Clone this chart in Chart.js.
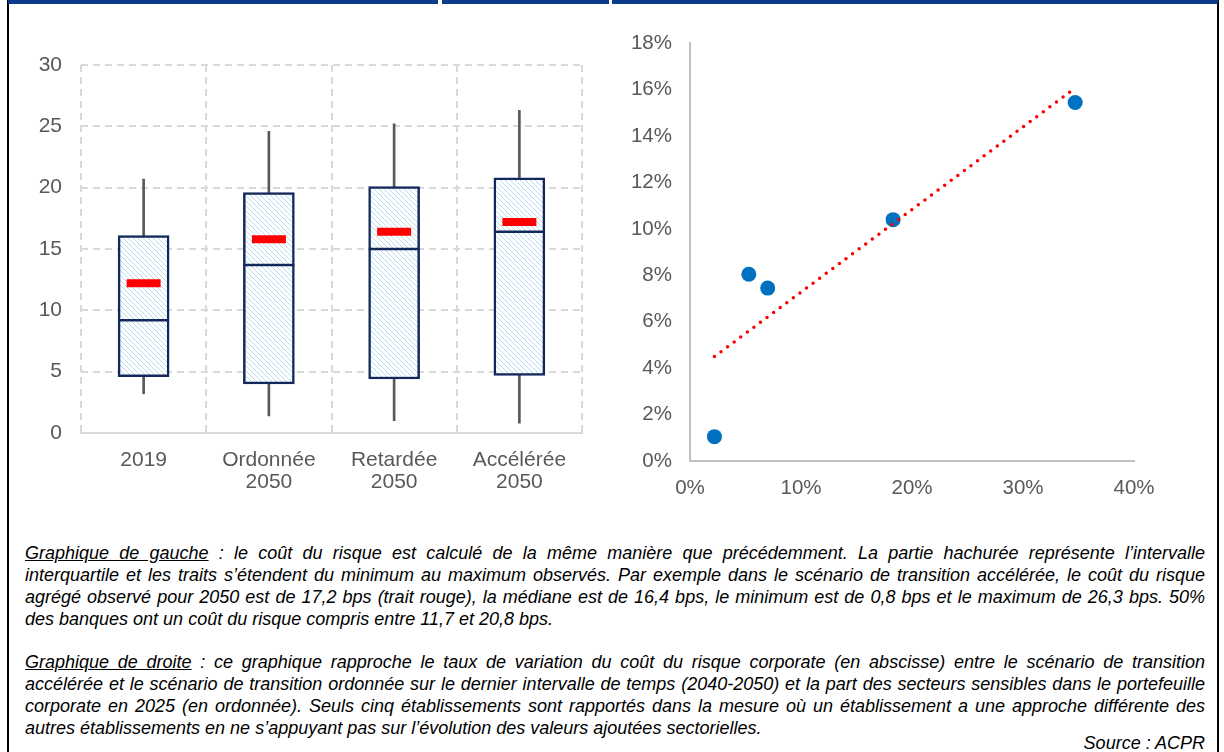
<!DOCTYPE html>
<html lang="fr">
<head>
<meta charset="utf-8">
<script src="https://cdn.jsdelivr.net/npm/chart.js@4.4.0/dist/chart.umd.min.js"></script>
<style>
body{margin:0;width:1224px;height:752px;background:#fff;position:relative;overflow:hidden;font-family:"Liberation Sans",Arial,sans-serif}
.frame{position:absolute;top:0;width:2px;height:752px;background:#000}
.topbar{position:absolute;top:0;height:4px;background:#0b3c8c}
#left{position:absolute;left:20px;top:35px}
#right{position:absolute;left:600px;top:13px}
.notes{position:absolute;left:25px;top:542px;width:1180px;font-style:italic;font-size:18px;color:#000}
.notes div{height:22px;line-height:22px;text-align:justify;text-align-last:justify;white-space:nowrap}
.notes div.last{text-align-last:left}
.notes div.gap{height:21px}
.notes div.source{text-align-last:right;height:20px;line-height:20px;margin-top:-6px}
</style>
</head>
<body>
<div class="frame" style="left:7px"></div>
<div class="frame" style="left:1217px"></div>
<div class="topbar" style="left:8px;width:430px"></div>
<div class="topbar" style="left:442px;width:167px"></div>
<div class="topbar" style="left:612px;width:606px"></div>

<canvas id="left" width="580" height="475"></canvas>
<canvas id="right" width="610" height="497"></canvas>

<div class="notes">
  <div><u>Graphique de gauche</u> : le coût du risque est calculé de la même manière que précédemment. La partie hachurée représente l’intervalle</div>
  <div>interquartile et les traits s’étendent du minimum au maximum observés. Par exemple dans le scénario de transition accélérée, le coût du risque</div>
  <div>agrégé observé pour 2050 est de 17,2 bps (trait rouge), la médiane est de 16,4 bps, le minimum est de 0,8 bps et le maximum de 26,3 bps. 50%</div>
  <div class="last">des banques ont un coût du risque compris entre 11,7 et 20,8 bps.</div>
  <div class="gap"></div>
  <div><u>Graphique de droite</u> : ce graphique rapproche le taux de variation du coût du risque corporate (en abscisse) entre le scénario de transition</div>
  <div>accélérée et le scénario de transition ordonnée sur le dernier intervalle de temps (2040-2050) et la part des secteurs sensibles dans le portefeuille</div>
  <div>corporate en 2025 (en ordonnée). Seuls cinq établissements sont rapportés dans la mesure où un établissement a une approche différente des</div>
  <div class="last">autres établissements en ne s’appuyant pas sur l’évolution des valeurs ajoutées sectorielles.</div>
  <div class="source">Source : ACPR</div>
</div>

<script>
// graphique de gauche : coût du risque (bps)
const categories = ['2019', ['Ordonnée', '2050'], ['Retardée', '2050'], ['Accélérée', '2050']];
const minValues = [3.2, 1.4, 1.0, 0.8];
const q1Values = [4.6, 4.0, 4.4, 4.7];
const medianValues = [9.2, 13.7, 15.0, 16.4];
const q3Values = [16.1, 19.6, 20.1, 20.8];
const maxValues = [20.7, 24.6, 25.2, 26.3];
const aggregateValues = [12.2, 15.8, 16.4, 17.2];

// graphique de droite : variation du coût du risque vs part des secteurs sensibles (%)
const riskChange = [2.2, 5.3, 7.0, 18.3, 34.7];
const sensitiveShare = [1.05, 8.05, 7.45, 10.4, 15.45];
const trendX = [2.2, 34.5];
const trendY = [4.5, 16.0];

const fontFamily = '"Liberation Sans", Arial, sans-serif';
const tickColor = '#595959';
const navy = '#13285a';

const leftCtx = document.getElementById('left').getContext('2d');

function makeHatch(){
    const c = document.createElement('canvas');
    c.width = 5; c.height = 5;
    const g = c.getContext('2d');
    g.fillStyle = '#fff';
    g.fillRect(0, 0, 5, 5);
    g.strokeStyle = '#b4def0';
    g.lineWidth = 1;
    g.beginPath();
    g.moveTo(-1, -1); g.lineTo(6, 6);
    g.moveTo(-1, 4); g.lineTo(1, 6);
    g.moveTo(4, -1); g.lineTo(6, 1);
    g.stroke();
    return leftCtx.createPattern(c, 'repeat');
}

new Chart(leftCtx, {
    type: 'bar',
    data: {
        labels: categories,
        datasets: [
            { data: minValues.map((v, i) => [v, maxValues[i]]), backgroundColor: '#595959', borderWidth: 0, barThickness: 2, grouped: false, order: 3 },
            { data: q1Values.map((v, i) => [v, q3Values[i]]), backgroundColor: makeHatch(), borderColor: navy, borderWidth: 2.5, borderSkipped: false, barThickness: 51, grouped: false, order: 2 },
            { type: 'line', data: medianValues, showLine: false, pointStyle: 'line', pointRadius: 25.5, borderColor: navy, pointBorderWidth: 2.5, order: 1 },
            { type: 'line', data: aggregateValues, showLine: false, pointStyle: 'line', pointRadius: 17, borderColor: '#ff0000', pointBorderWidth: 8, order: 0 }
        ]
    },
    options: {
        responsive: false,
        animation: false,
        events: [],
        layout: { autoPadding: false, padding: { top: 0, right: 18, left: 0, bottom: 0 } },
        plugins: { legend: { display: false }, tooltip: { enabled: false } },
        scales: {
            x: {
                grid: { color: '#d9d9d9', lineWidth: 2, drawTicks: false, offset: true },
                border: { display: true, color: '#d9d9d9', width: 2, dash: [7, 5] },
                ticks: { font: { family: fontFamily, size: 21, lineHeight: 1.05 }, color: tickColor, padding: 16 },
                afterFit(s){ s.height = 77; }
            },
            y: {
                min: 0, max: 30,
                grid: { color: '#d9d9d9', lineWidth: 2, drawTicks: false },
                border: { display: false, dash: [7, 5] },
                ticks: { stepSize: 5, font: { family: fontFamily, size: 21, lineHeight: 1.05 }, color: tickColor, padding: 19 },
                afterFit(s){ s.width = 61; }
            }
        }
    }
});

new Chart(document.getElementById('right'), {
    type: 'scatter',
    data: {
        datasets: [
            { type: 'line', data: trendX.map((x, i) => ({x, y: trendY[i]})), borderColor: '#ff0000', borderWidth: 3.5, borderDash: [0, 8.2], borderCapStyle: 'round', pointRadius: 0, fill: false, order: 0 },
            { data: riskChange.map((x, i) => ({x, y: sensitiveShare[i]})), backgroundColor: '#0070c0', borderWidth: 0, pointRadius: 7.5, order: 1 }
        ]
    },
    options: {
        responsive: false,
        animation: false,
        events: [],
        layout: { autoPadding: false, padding: { top: 0, right: 76, left: 0, bottom: 0 } },
        plugins: { legend: { display: false }, tooltip: { enabled: false } },
        scales: {
            x: {
                type: 'linear', min: 0, max: 40,
                grid: { display: false, drawTicks: false },
                border: { display: true, color: '#bfbfbf', width: 2 },
                ticks: { stepSize: 10, font: { family: fontFamily, size: 20.5, lineHeight: 1.2 }, color: tickColor, padding: 15, callback: v => v + '%' },
                afterFit(s){ s.height = 49; }
            },
            y: {
                min: 0, max: 18,
                grid: { display: false, drawTicks: false },
                border: { display: true, color: '#bfbfbf', width: 2 },
                ticks: { stepSize: 2, font: { family: fontFamily, size: 20.5, lineHeight: 1.2 }, color: tickColor, padding: 18, callback: v => v + '%' },
                afterFit(s){ s.width = 90; }
            }
        }
    }
});
</script>
</body>
</html>
